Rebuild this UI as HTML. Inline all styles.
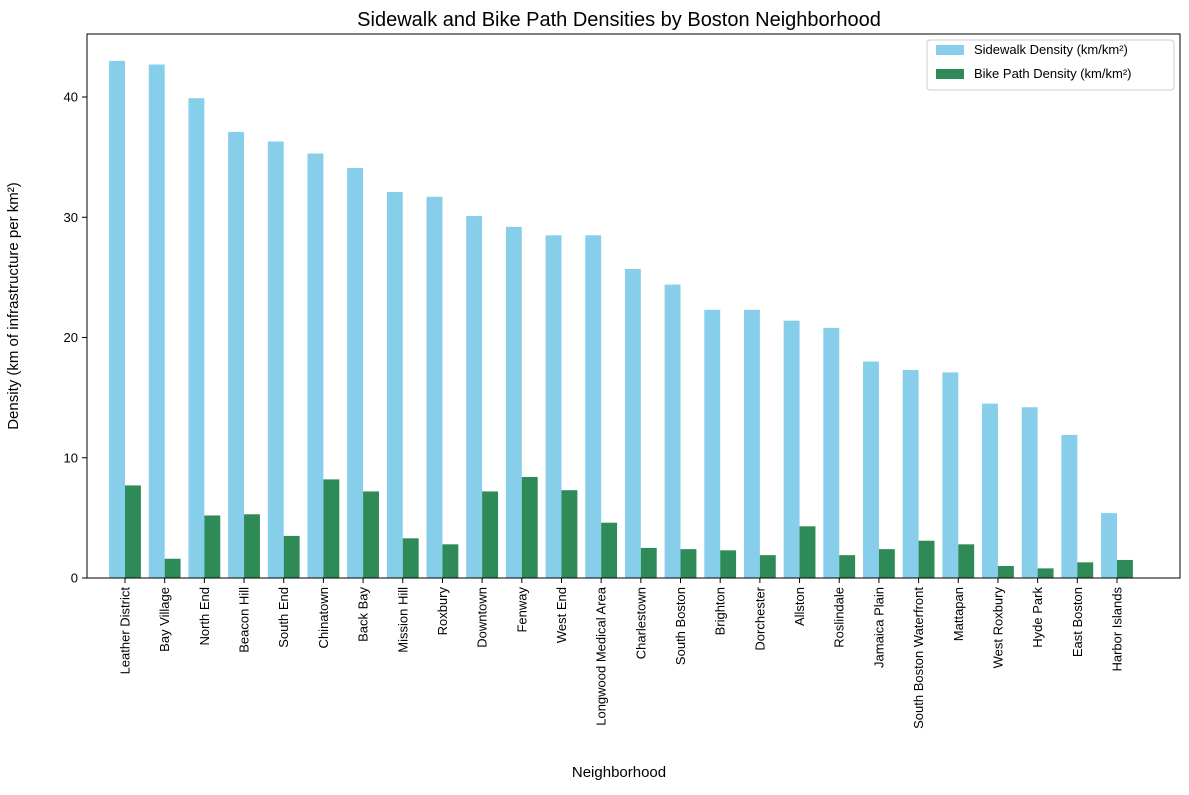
<!DOCTYPE html>
<html><head><meta charset="utf-8"><style>
body{margin:0;background:#fff;font-family:"Liberation Sans",sans-serif}
</style></head><body>
<svg id="chart" width="1189" height="790" xmlns="http://www.w3.org/2000/svg">
<text x="619" y="26" text-anchor="middle" font-size="20">Sidewalk and Bike Path Densities by Boston Neighborhood</text>
<g id="bars"></g><g id="yticks"></g><g id="xticks"></g>
<rect x="87" y="34" width="1093" height="544" fill="none" stroke="#000" stroke-width="1"/>
<text x="619" y="777" text-anchor="middle" font-size="15">Neighborhood</text>
<text transform="translate(18,306) rotate(-90)" text-anchor="middle" font-size="15">Density (km of infrastructure per km²)</text>
<g>
<rect x="927" y="40" width="247" height="50" fill="#fff" stroke="#ccc" rx="3"/>
<rect x="936" y="45" width="28" height="10" fill="#87ceeb"/>
<text x="974" y="54" font-size="13">Sidewalk Density (km/km²)</text>
<rect x="936" y="69" width="28" height="10" fill="#2e8b57"/>
<text x="974" y="78" font-size="13">Bike Path Density (km/km²)</text>
</g>
</svg>
<script>
const categories=["Leather District","Bay Village","North End","Beacon Hill","South End","Chinatown","Back Bay","Mission Hill","Roxbury","Downtown","Fenway","West End","Longwood Medical Area","Charlestown","South Boston","Brighton","Dorchester","Allston","Roslindale","Jamaica Plain","South Boston Waterfront","Mattapan","West Roxbury","Hyde Park","East Boston","Harbor Islands"];
const sidewalk=[43.0,42.7,39.9,37.1,36.3,35.3,34.1,32.1,31.7,30.1,29.2,28.5,28.5,25.7,24.4,22.3,22.3,21.4,20.8,18.0,17.3,17.1,14.5,14.2,11.9,5.4];
const bike=[7.7,1.6,5.2,5.3,3.5,8.2,7.2,3.3,2.8,7.2,8.4,7.3,4.6,2.5,2.4,2.3,1.9,4.3,1.9,2.4,3.1,2.8,1.0,0.8,1.3,1.5];
const yTicks=[0,10,20,30,40];
const NS="http://www.w3.org/2000/svg";
const x=i=>125+i*39.68;
const y=v=>578-v*12.025;
const bw=15.9;
function mk(t,a,p){const e=document.createElementNS(NS,t);for(const k in a)e.setAttribute(k,a[k]);p.appendChild(e);return e;}
const bars=document.getElementById('bars'),yt=document.getElementById('yticks'),xt=document.getElementById('xticks');
categories.forEach((c,i)=>{
 const r1=mk('rect',{x:x(i)-bw,y:y(sidewalk[i]),width:bw,height:578-y(sidewalk[i]),fill:'#87ceeb'},bars);
 
 
 const r2=mk('rect',{x:x(i),y:y(bike[i]),width:bw,height:578-y(bike[i]),fill:'#2e8b57'},bars);
 
 
 mk('line',{x1:x(i),x2:x(i),y1:578,y2:583,stroke:'#000'},xt);
 const t=mk('text',{transform:`translate(${x(i)+4.5},587) rotate(-90)`,'text-anchor':'end','font-size':13},xt);
 t.textContent=c;
 
 
});
yTicks.forEach(v=>{
 mk('line',{x1:82,x2:87,y1:y(v),y2:y(v),stroke:'#000'},yt);
 const t=mk('text',{x:78,y:y(v)+4.5,'text-anchor':'end','font-size':13},yt);
 t.textContent=v;
 
 
});
</script>
</body></html>
